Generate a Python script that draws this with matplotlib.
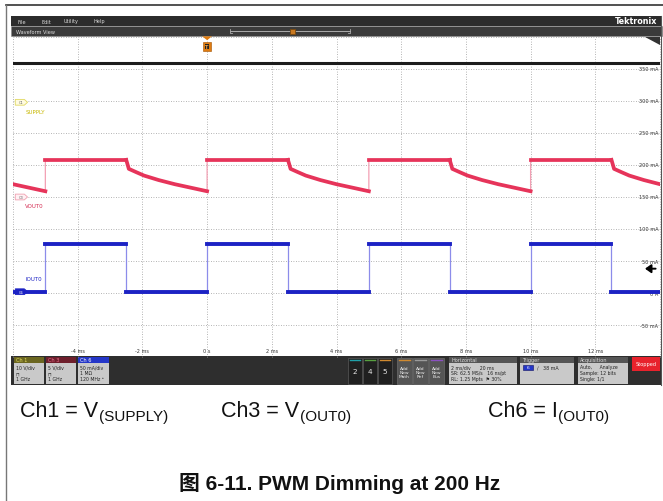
import matplotlib
matplotlib.use("Agg")
import matplotlib.pyplot as plt
from matplotlib.patches import Rectangle, Polygon

# ---- data (display units: mA on the Ch6 scale) ----
t_rise = [-10, -5, 0, 5, 10]          # ms, PWM rising edges (200 Hz)
on_time = 2.5                          # ms, 50 % duty
period = 5.0
supply_level = 359                     # Ch1 trace position
vout_high = 208                        # Ch3 while PWM on
vout_decay_t = [0.0, 0.08, 0.3, 0.55, 1.0, 1.5, 2.0, 2.5]    # ms after falling edge
vout_decay = [208, 194, 189, 183.5, 176.5, 170, 164.5, 159]
iout_high = 76
iout_low = 2

time_ticks = [-4, -2, 0, 2, 4, 6, 8, 10, 12]
time_labels = ["-4 ms", "-2 ms", "0 s", "2 ms", "4 ms", "6 ms", "8 ms", "10 ms", "12 ms"]
amp_ticks = [350, 300, 250, 200, 150, 100, 50, 0, -50]
amp_labels = ["350 mA", "300 mA", "250 mA", "200 mA", "150 mA", "100 mA", "50 mA", "0 A", "-50 mA"]
trig_level = 38

W, H = 663, 502
RED, RED_EDGE = "#e6345a", "#f3a0b4"
BLUE, BLUE_EDGE = "#1c22c4", "#8c8cea"

fig = plt.figure(figsize=(W / 100, H / 100), dpi=100)
bg = fig.add_axes([0, 0, 1, 1])
bg.set_xlim(0, W)
bg.set_ylim(H, 0)
bg.axis("off")


def rect(x0, y0, x1, y1, fc, ec="none", lw=0.6, z=1):
    bg.add_patch(Rectangle((x0, y0), x1 - x0, y1 - y0, fc=fc, ec=ec, lw=lw, zorder=z))


def txt(x, y, s, size=3.8, color="#dddddd", ha="left", va="center", **kw):
    bg.text(x, y, s, fontsize=size, color=color, ha=ha, va=va, zorder=5, **kw)


# outer frame of the document figure
bg.plot([6, W], [6, 6], color="#333333", lw=1.2)
bg.plot([6, 6], [6, H], color="#777777", lw=1.0)

# menu bar + waveform view bar
rect(11, 17, 662, 27, "#2c2c2c")
rect(11, 27, 662, 36.5, "#3b3b3b", ec="#888888", lw=0.4)
for x, s in zip([17, 41, 64, 93], ["File", "Edit", "Utility", "Help"]):
    txt(x, 22, s, size=3.6)
txt(657, 21.5, "Tektronix", size=5.8, color="white", ha="right", fontweight="bold")
txt(16, 32, "Waveform View", size=3.6)
bg.plot([230, 350], [32, 32], color="#aaaaaa", lw=0.7)
bg.plot([230, 230, 232], [30, 34, 34], color="#aaaaaa", lw=0.6)
bg.plot([350, 350, 348], [30, 34, 34], color="#aaaaaa", lw=0.6)
rect(290, 29.5, 294.5, 35, "#c87820", ec="#7a4a10", z=3)

# status bar
rect(11, 357, 662, 386, "#2e2e2e")
badges = [
    (14, 44, "#6b6620", "#e8df60", "Ch 1", ["10 V/div", "\u2293", "1 GHz"]),
    (46, 76, "#6e1f2c", "#f07090", "Ch 3", ["5 V/div", "\u2293", "1 GHz"]),
    (78, 109, "#2436c8", "white", "Ch 6", ["50 mA/div", "1 M\u03a9", "120 MHz \u1d2e"]),
]
for x0, x1, hc, tc, name, lines in badges:
    rect(x0, 358, x1, 364, hc)
    rect(x0, 364, x1, 385, "#c9c9c9")
    txt(x0 + 2, 361, name, size=3.6, color=tc)
    for i, s in enumerate(lines):
        txt(x0 + 2, 368 + i * 6, s, size=3.3, color="#222222")

for (x0, x1), s, c in zip([(348, 362), (363, 377), (378, 392)], ["2", "4", "5"],
                          ["#20a0a8", "#58a040", "#d08a30"]):
    rect(x0, 359, x1, 385, "#202020", ec="#666666", lw=0.4)
    bg.plot([x0 + 2, x1 - 2], [361, 361], color=c, lw=1.0)
    txt((x0 + x1) / 2, 372, s, size=5.2, color="#e8e8e8", ha="center")

for (x0, x1), s, c in zip([(397, 412), (413, 428), (429, 444)], ["Math", "Ref", "Bus"],
                          ["#d08a30", "#9a9a9a", "#8a50c0"]):
    rect(x0, 359, x1, 385, "#555555", ec="#777777", lw=0.4)
    bg.plot([x0 + 2, x1 - 2], [361, 361], color=c, lw=1.0)
    txt((x0 + x1) / 2, 373, "Add\nNew\n" + s, size=3.2, color="#eeeeee", ha="center",
        linespacing=1.1)

panels = [
    (449, 517, "Horizontal", ["2 ms/div      20 ms", "SR: 62.5 MS/s   16 ns/pt", "RL: 1.25 Mpts  \u2691 30%"]),
    (520, 574, "Trigger", ["", "", ""]),
    (578, 628, "Acquisition", ["Auto,     Analyze", "Sample: 12 bits", "Single: 1/1"]),
]
for x0, x1, head, lines in panels:
    rect(x0, 358, x1, 364, "#555555")
    rect(x0, 364, x1, 385, "#c9c9c9")
    txt(x0 + 2, 361, head, size=3.6, color="#dddddd")
    for i, s in enumerate(lines):
        txt(x0 + 2, 368 + i * 6, s, size=3.3, color="#222222")
rect(523, 365.5, 533, 371, "#2436c8", ec="#101060", lw=0.4, z=3)
txt(528, 368.3, "6", size=3.2, color="white", ha="center")
txt(537, 368.3, "\u2215   38 mA", size=3.4, color="#222222")

rect(632, 358, 660, 372, "#e8222c")
txt(646, 365, "Stopped", size=3.6, color="white", ha="center")

bg.plot([661, 661], [17, 386], color="#555555", lw=0.8)

# ---- waveform area ----
ax = fig.add_axes([13 / W, 1 - 358 / H, 647 / W, 320 / H])
ax.set_xlim(-6, 14)
ax.set_ylim(-100, 400)
ax.axis("off")

for t in range(-6, 15, 2):
    ax.axvline(t, color="#9c9c9c", lw=0.6, ls=(0, (1, 2)), clip_on=False, zorder=0)
for a in range(-50, 401, 50):
    ax.axhline(a, color="#9c9c9c", lw=0.6, ls=(0, (1, 2)), clip_on=False, zorder=0)

for t, s in zip(time_ticks, time_labels):
    ax.text(t, -90, s, fontsize=3.6, color="#333333", ha="center", va="center")
for a, s in zip(amp_ticks, amp_labels):
    ax.text(13.95, a, s, fontsize=3.6, color="#333333", ha="right", va="center")

# Ch1 supply
ax.plot([-6, 14], [supply_level, supply_level], color="#1c1c1c", lw=2.2, zorder=3)

# Ch3 VOUT0 and Ch6 IOUT0, built cycle by cycle from the values read above
vt, vv, it, iv = [], [], [], []
for r in t_rise:
    f = r + on_time
    vt += [r, f]
    vv += [vout_high, vout_high]
    vt += [f + d for d in vout_decay_t]
    vv += vout_decay
    it += [r, f, f, r + period]
    iv += [iout_high, iout_high, iout_low, iout_low]
it = [-10] + it
iv = [iout_low] + iv

ax.plot(vt, vv, color=RED_EDGE, lw=0.9, zorder=3)
ax.plot(it, iv, color=BLUE_EDGE, lw=0.9, zorder=3)
for r in t_rise:
    f = r + on_time
    ax.plot([r, f], [vout_high, vout_high], color=RED, lw=2.7, zorder=4)
    ax.plot([f + d for d in vout_decay_t], vout_decay, color=RED, lw=2.7, zorder=4,
            solid_joinstyle="round")
    ax.plot([r, f], [iout_high, iout_high], color=BLUE, lw=2.8, zorder=4)
    ax.plot([f, r + period], [iout_low, iout_low], color=BLUE, lw=2.8, zorder=4)

# trigger position marker and level arrow
tp = ax.transData
ax.add_patch(Rectangle((-0.12, 378), 0.24, 14, transform=tp, fc="#e07c10", ec="#a05000",
                       lw=0.4, clip_on=False, zorder=6))
ax.add_patch(Rectangle((-0.07, 381), 0.14, 8.5, transform=tp, fc="#222222", ec="none",
                       clip_on=False, zorder=6))
ax.text(0, 385, "T", fontsize=3.6, color="#f0a040", ha="center", va="center", zorder=7,
        fontweight="bold")
ax.add_patch(Polygon([[-0.15, 401], [0.15, 401], [0, 395]], closed=True, fc="#e07c10",
                     ec="none", clip_on=False, zorder=6))
ax.annotate("", xy=(13.45, trig_level), xytext=(13.95, trig_level),
            arrowprops=dict(arrowstyle="-|>,head_width=0.25,head_length=0.35", color="black",
                            lw=1.4), zorder=6)
ax.add_patch(Polygon([[13.55, 400], [14, 400], [14, 388]], closed=True, fc="#333333",
                     ec="none", clip_on=False, zorder=6))

# channel badges on the left
for y, c_edge, c_fill, name, lab, lab_y, c_lab in [
        (298, "#e0d860", "#fffbe0", "C1", "SUPPLY", 284, "#c8b800"),
        (150, "#f0a0b0", "#fff0f3", "C3", "VOUT0", 136, "#d42a50"),
        (2, BLUE, BLUE, "C6", "IOUT0", 22, BLUE)]:
    pts = [[-5.93, y - 4.5], [-5.65, y - 4.5], [-5.55, y], [-5.65, y + 4.5], [-5.93, y + 4.5]]
    ax.add_patch(Polygon(pts, closed=True, fc=c_fill, ec=c_edge, lw=0.6, zorder=7))
    ax.text(-5.76, y, name, fontsize=2.6, color="white" if name == "C6" else "#666666",
            ha="center", va="center", zorder=8)
    ax.text(-5.62, lab_y, lab, fontsize=4.0, color=c_lab, ha="left", va="center")

# ---- text under the screenshot ----
font = ["Liberation Sans", "Noto Sans CJK SC", "DejaVu Sans"]
for x, main, sub in [(20, "Ch1 = V", "(SUPPLY)"), (221, "Ch3 = V", "(OUT0)"),
                     (488, "Ch6 = I", "(OUT0)")]:
    t1 = bg.text(x, 417, main, fontsize=15.5, family=font, va="baseline", color="#111111")
    fig.canvas.draw()
    bb = t1.get_window_extent().transformed(bg.transData.inverted())
    bg.text(bb.x1 + 0.5, 421, sub, fontsize=11, family=font, va="baseline", color="#111111")

bg.text(340, 484, "\u56fe 6-11. PWM Dimming at 200 Hz", fontsize=15, family=font,
        fontweight="bold", ha="center", va="center", color="#111111")

fig.savefig("out.png", dpi=100)
